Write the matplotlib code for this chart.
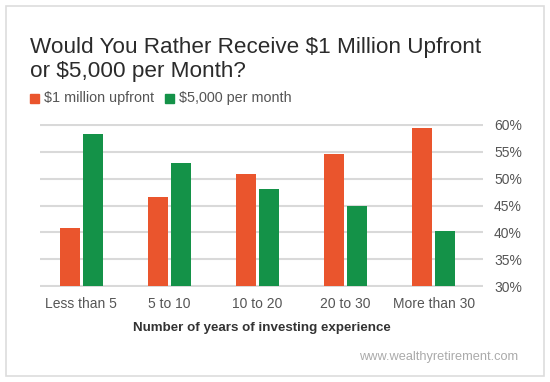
import matplotlib

matplotlib.use('Agg')
import matplotlib.pyplot as plt
import matplotlib.patches as patches
import numpy as np

plt.rcParams['font.family'] = ['Liberation Sans', 'DejaVu Sans']

categories = ["Less than 5", "5 to 10", "10 to 20", "20 to 30", "More than 30"]
upfront = [40.8, 46.6, 50.9, 54.6, 59.5]
per_month = [58.3, 53.0, 48.0, 44.9, 40.2]
yticks = [30, 35, 40, 45, 50, 55, 60]

orange = "#EA552D"
green = "#149248"

fig = plt.figure(figsize=(5.5, 3.82), dpi=100)
fig.patch.set_facecolor("white")

# light frame around the whole graphic
fig.patches.append(patches.Rectangle((6 / 550, 6 / 382), 538 / 550, 370 / 382,
                                     transform=fig.transFigure, fill=False,
                                     edgecolor="#DDDDDD", linewidth=1.2))

ax = fig.add_axes([40 / 550, 0.2484, 443 / 550, 0.6756 - 0.2484])

x = np.arange(len(categories))
w = 0.227
off = 0.129
base = 30
ax.bar(x - off, np.array(upfront) - base, w, bottom=base, color=orange, zorder=3)
ax.bar(x + off, np.array(per_month) - base, w, bottom=base, color=green, zorder=3)

ax.set_xlim(-0.47, 4.56)
ax.set_ylim(29.8, 60.2)
for t in yticks:
    ax.axhline(t, color="#D9D9D9", linewidth=1.5, zorder=1)

for s in ax.spines.values():
    s.set_visible(False)

ax.yaxis.tick_right()
ax.set_yticks(yticks)
ax.set_yticklabels(["{}%".format(t) for t in yticks], fontsize=10, color="#555555")
ax.tick_params(axis='y', length=0, pad=8)
ax.set_xticks(x)
ax.set_xticklabels(categories, fontsize=10, color="#555555")
ax.tick_params(axis='x', length=0, pad=7)
ax.set_xlabel("Number of years of investing experience", fontsize=9.6,
              fontweight="bold", color="#333333", labelpad=8)

fig.text(30 / 550, 1 - 47 / 382, "Would You Rather Receive $1 Million Upfront",
         fontsize=16.2, color="#2B2B2B", va="center", ha="left")
fig.text(30 / 550, 1 - 72 / 382, "or $5,000 per Month?",
         fontsize=16.2, color="#2B2B2B", va="center", ha="left")

# legend row
fig.patches.append(patches.Rectangle((30 / 550, 1 - 103 / 382), 9 / 550, 9 / 382,
                                     transform=fig.transFigure, color=orange))
fig.text(44 / 550, 1 - 98 / 382, "$1 million upfront", fontsize=10.4,
         color="#555555", va="center", ha="left")
fig.patches.append(patches.Rectangle((165 / 550, 1 - 103 / 382), 9 / 550, 9 / 382,
                                     transform=fig.transFigure, color=green))
fig.text(179 / 550, 1 - 98 / 382, "$5,000 per month", fontsize=10.4,
         color="#555555", va="center", ha="left")

fig.text(518 / 550, 1 - 357 / 382, "www.wealthyretirement.com", fontsize=9.2,
         color="#AAAAAA", va="center", ha="right")

fig.savefig("out.png", dpi=100)
